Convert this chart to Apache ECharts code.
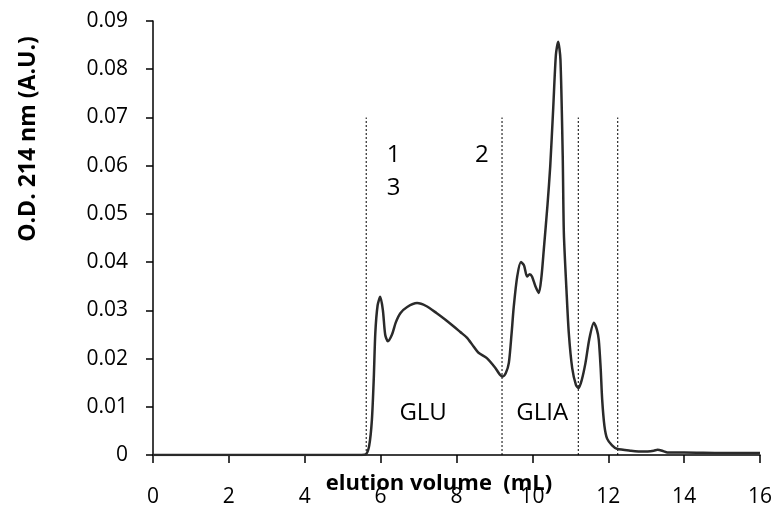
<!DOCTYPE html>
<html><head><meta charset="utf-8">
<script src="https://cdn.jsdelivr.net/npm/echarts@6/dist/echarts.min.js"></script>
<style>html,body{margin:0;padding:0;background:#fff}#c{width:775px;height:506px}</style>
</head><body><div id="c"></div>
<script>
var volume = [0,5.5,5.62,5.7,5.77,5.82,5.86,5.92,5.99,6.06,6.12,6.19,6.3,6.4,6.52,6.7,6.96,7.2,7.48,7.7,7.92,8.1,8.28,8.45,8.58,8.8,9.02,9.15,9.22,9.3,9.38,9.45,9.51,9.6,9.7,9.78,9.86,9.93,9.99,10.08,10.17,10.24,10.3,10.4,10.47,10.55,10.62,10.68,10.74,10.8,10.83,10.9,10.96,11.05,11.15,11.22,11.3,11.4,11.5,11.62,11.7,11.75,11.8,11.84,11.9,11.97,12.1,12.23,12.6,12.93,13.2,13.3,13.45,13.56,14,15,16];
var od = [0,0,0.0002,0.002,0.0073,0.016,0.0253,0.031,0.0328,0.030,0.025,0.0236,0.025,0.0275,0.0294,0.0307,0.0315,0.0309,0.0294,0.0281,0.0267,0.0255,0.0243,0.0225,0.0212,0.0201,0.0181,0.0166,0.0163,0.0170,0.0191,0.025,0.0308,0.037,0.0400,0.0393,0.0370,0.0375,0.0370,0.0350,0.0336,0.037,0.0425,0.052,0.0598,0.072,0.083,0.0857,0.082,0.062,0.046,0.034,0.0253,0.018,0.0145,0.0139,0.0155,0.0191,0.024,0.0274,0.026,0.0239,0.018,0.0115,0.006,0.0034,0.002,0.0013,0.0009,0.0007,0.0009,0.0011,0.0008,0.0005,0.0005,0.0004,0.0004];
var dividerX = [5.62, 9.2, 11.21, 12.25];
var dividerTop = 0.07;
var annotations = [
  {text:'1', x:6.34, y:0.0622},
  {text:'3', x:6.34, y:0.0553},
  {text:'2', x:8.67, y:0.0622},
  {text:'GLU', x:7.12, y:0.0087},
  {text:'GLIA', x:10.26, y:0.0087}
];
var xTicks = {min:0, max:16, interval:2};
var yTicks = {min:0, max:0.09, interval:0.01};
var xTitle = 'elution volume  (mL)';
var yTitle = 'O.D. 214 nm (A.U.)';

var FONT = '"Open Sans"';
var chart = echarts.init(document.getElementById('c'));
var series = [{
  type:'line', data: volume.map(function(v,i){return [v, od[i]];}),
  showSymbol:false, smooth:0.25, lineStyle:{color:'#2a2a2a', width:2.5}, z:3
}];
dividerX.forEach(function(x){
  series.push({type:'line', data:[[x,0],[x,dividerTop]], showSymbol:false,
    lineStyle:{color:'#000', width:1, type:[2,2]}, z:2, silent:true});
});
series.push({type:'scatter', symbolSize:0, silent:true, itemStyle:{opacity:1, color:'rgba(0,0,0,0)'},
  data: annotations.map(function(a){return {value:[a.x,a.y], label:{show:true, formatter:a.text}};}),
  label:{show:true, position:'inside', color:'#000', opacity:1, fontSize:24, fontFamily:FONT}});
chart.setOption({
  animation:false,
  grid:{left:153, right:15, top:21, bottom:51, containLabel:false, outerBoundsMode:'none'},
  xAxis:{type:'value', min:xTicks.min, max:xTicks.max, interval:xTicks.interval,
    axisLine:{lineStyle:{color:'#000', width:1.5}}, axisTick:{show:true, length:8, lineStyle:{color:'#000', width:1.5}},
    splitLine:{show:false},
    axisLabel:{color:'#000', fontSize:21, fontFamily:FONT, margin:32}},
  yAxis:{type:'value', min:yTicks.min, max:yTicks.max, interval:yTicks.interval,
    axisLine:{show:true, lineStyle:{color:'#000', width:1.5}}, axisTick:{show:true, length:7, lineStyle:{color:'#000', width:1.5}},
    splitLine:{show:false},
    axisLabel:{color:'#000', fontSize:21, fontFamily:FONT, margin:25, formatter:function(v){return +v.toFixed(2)+'';}}},
  graphic:[
    {type:'text', x:28, y:139, rotation:Math.PI/2, z:10, style:{text:yTitle, fill:'#000',
      font:'bold 23px '+FONT, textAlign:'center', textVerticalAlign:'middle'}},
    {type:'text', x:439, y:484, z:10, style:{text:xTitle, fill:'#000',
      font:'bold 22px '+FONT, textAlign:'center', textVerticalAlign:'middle'}}
  ],
  series:series
});
</script></body></html>
